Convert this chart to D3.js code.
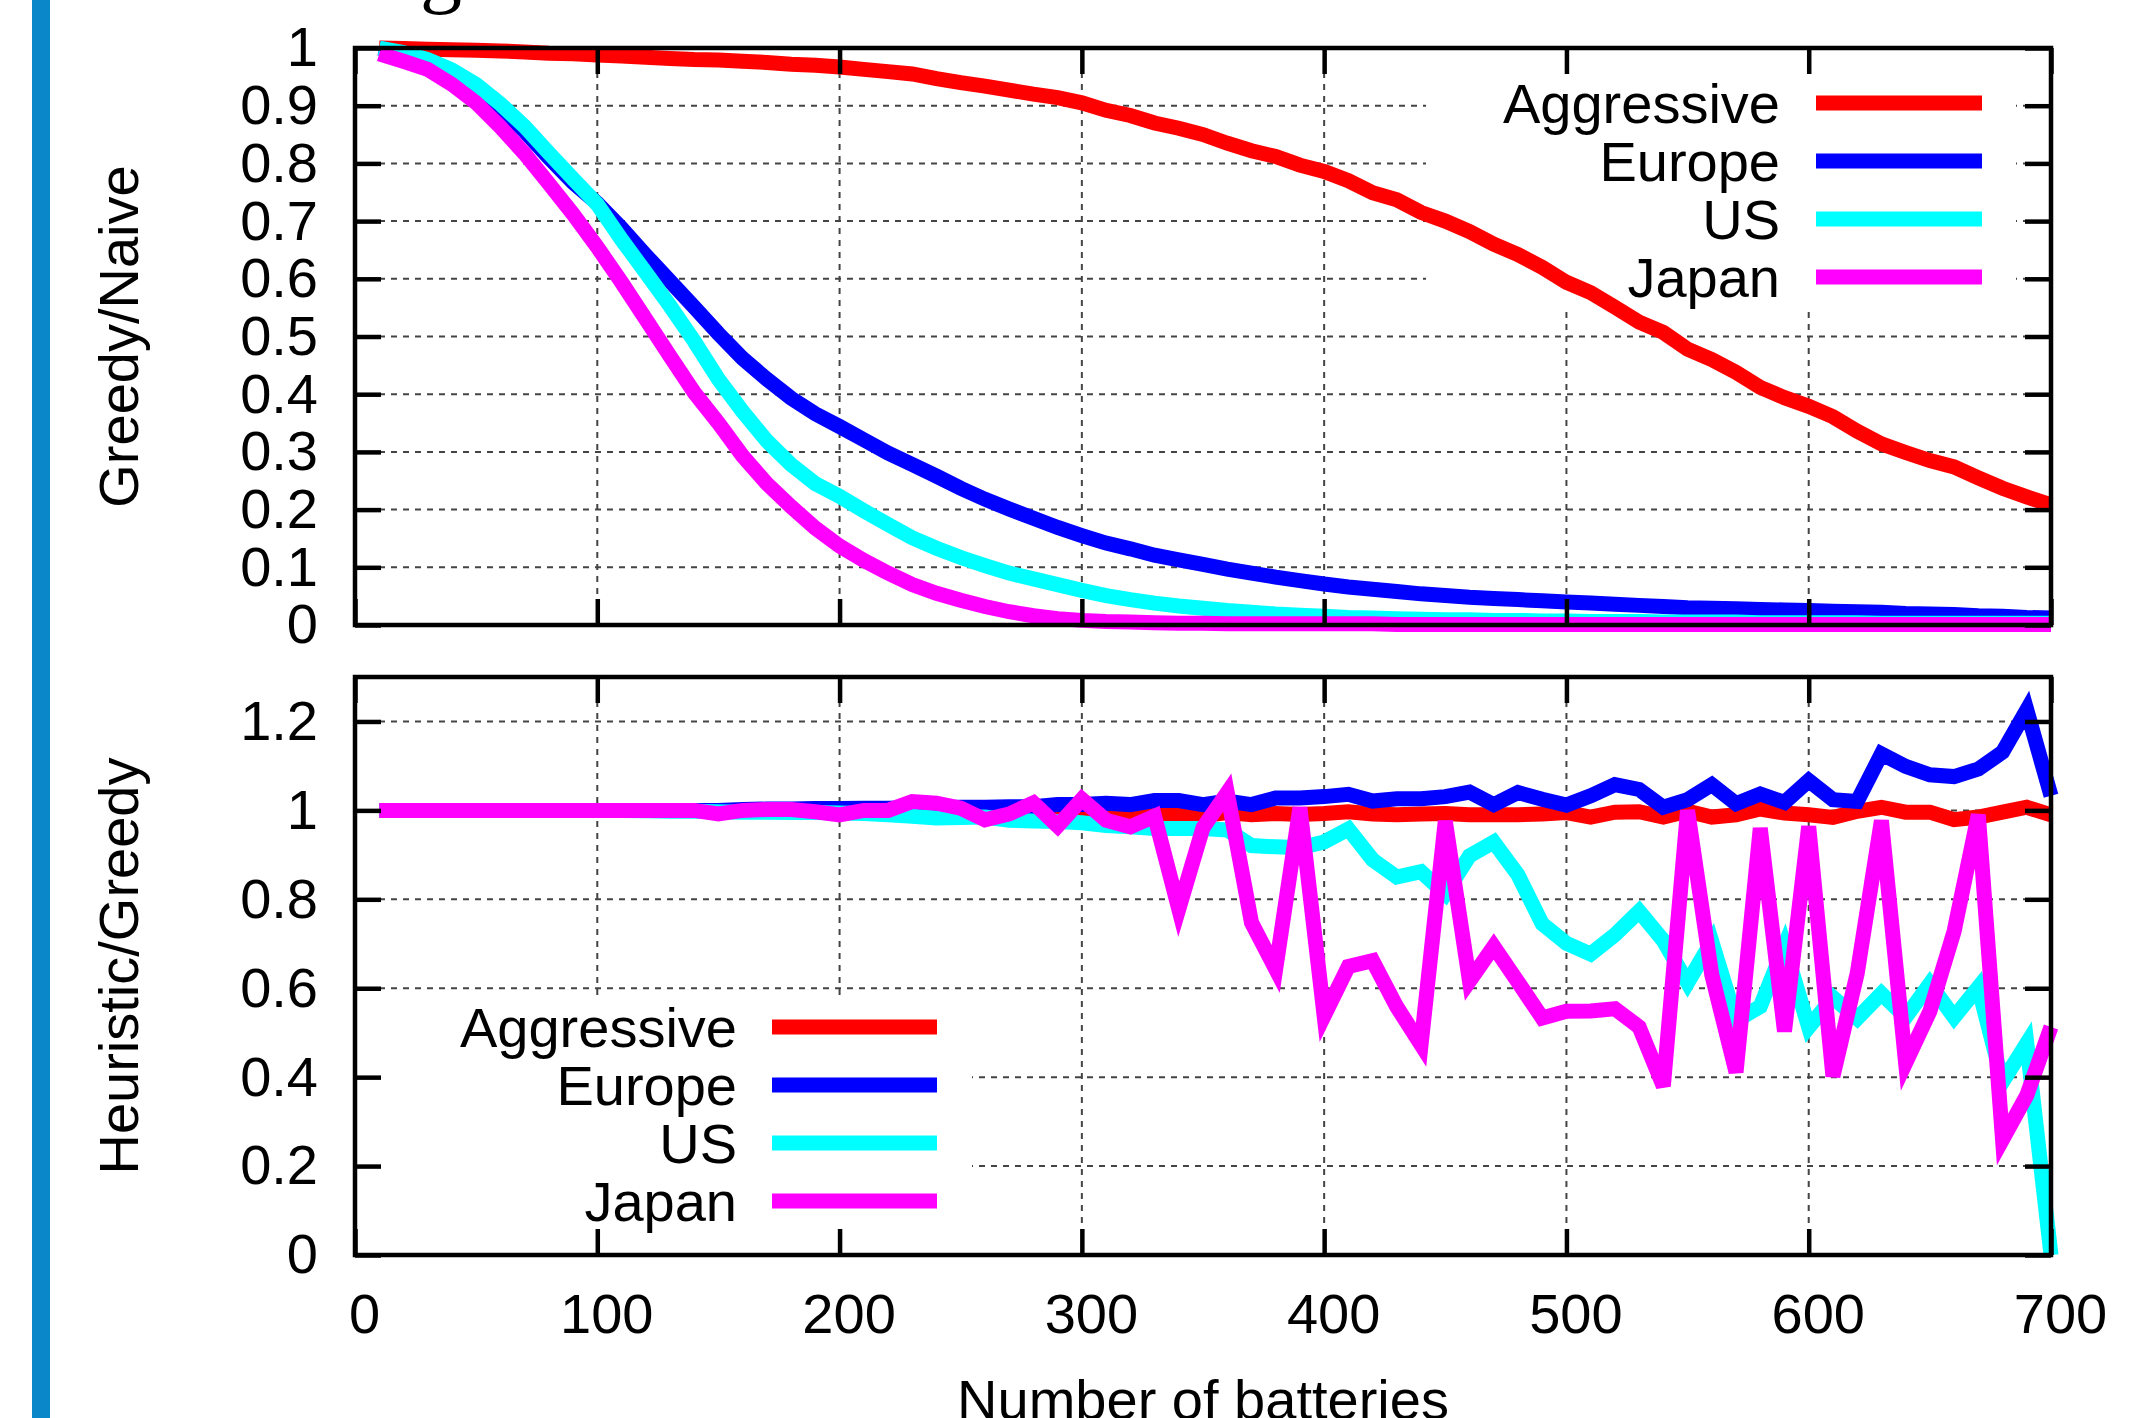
<!DOCTYPE html>
<html lang="en">
<head>
<meta charset="UTF-8" />
<title>Greedy / Heuristic ratios</title>
<style>
	body { margin: 0; background: #fff; }
	svg text { font-family: "Liberation Sans", Arial, Helvetica, sans-serif; }
</style>
</head>
<body>
<svg id="vis" width="2139" height="1418"></svg>
<script src="https://cdn.jsdelivr.net/npm/d3@7"></script>
<script>
	// x values: number of batteries
	const batteries = [10, 20, 30, 40, 50, 60, 70, 80, 90, 100,
		110, 120, 130, 140, 150, 160, 170, 180, 190, 200,
		210, 220, 230, 240, 250, 260, 270, 280, 290, 300,
		310, 320, 330, 340, 350, 360, 370, 380, 390, 400,
		410, 420, 430, 440, 450, 460, 470, 480, 490, 500,
		510, 520, 530, 540, 550, 560, 570, 580, 590, 600,
		610, 620, 630, 640, 650, 660, 670, 680, 690, 700];

	const seriesNames = ["Aggressive", "Europe", "US", "Japan"];
	const seriesColors = ["#ff0000", "#0000ff", "#00ffff", "#ff00ff"];

	// top panel : Greedy/Naive
	const naiveAggressive = [1.0, 0.999, 0.998, 0.997, 0.996, 0.995, 0.993, 0.991, 0.99, 0.988,
		0.986, 0.984, 0.982, 0.98, 0.979, 0.977, 0.975, 0.972, 0.97, 0.967,
		0.963, 0.959, 0.955, 0.947, 0.94, 0.934, 0.927, 0.92, 0.914, 0.905,
		0.892, 0.883, 0.87, 0.861, 0.85, 0.835, 0.822, 0.812, 0.797, 0.786,
		0.77, 0.749, 0.737, 0.715, 0.70, 0.682, 0.66, 0.642, 0.62, 0.594,
		0.576, 0.551, 0.525, 0.507, 0.478, 0.46, 0.438, 0.412, 0.394, 0.379,
		0.361, 0.336, 0.314, 0.299, 0.285, 0.274, 0.255, 0.237, 0.222, 0.208];
	const naiveEurope = [1.0, 0.99, 0.976, 0.955, 0.929, 0.895, 0.856, 0.81, 0.767, 0.731,
		0.688, 0.641, 0.596, 0.551, 0.505, 0.462, 0.426, 0.393, 0.366, 0.344,
		0.321, 0.298, 0.278, 0.258, 0.237, 0.218, 0.201, 0.185, 0.169, 0.155,
		0.142, 0.132, 0.121, 0.113, 0.105, 0.097, 0.09, 0.083, 0.077, 0.071,
		0.066, 0.062, 0.058, 0.054, 0.051, 0.048, 0.046, 0.044, 0.042, 0.04,
		0.038, 0.036, 0.034, 0.032, 0.03, 0.029, 0.028, 0.027, 0.026, 0.025,
		0.024, 0.023, 0.022, 0.02, 0.019, 0.018, 0.016, 0.015, 0.013, 0.012];
	const naiveUS = [1.0, 0.992, 0.98, 0.962, 0.937, 0.903, 0.864, 0.818, 0.773, 0.729,
		0.668, 0.611, 0.553, 0.492, 0.426, 0.37, 0.319, 0.278, 0.245, 0.223,
		0.198, 0.174, 0.151, 0.133, 0.117, 0.103, 0.09, 0.08, 0.07, 0.06,
		0.051, 0.044, 0.038, 0.033, 0.029, 0.025, 0.022, 0.019, 0.017, 0.015,
		0.013, 0.012, 0.011, 0.01, 0.009, 0.009, 0.008, 0.008, 0.007, 0.007,
		0.006, 0.006, 0.006, 0.005, 0.005, 0.005, 0.005, 0.004, 0.004, 0.004,
		0.004, 0.004, 0.003, 0.003, 0.003, 0.003, 0.003, 0.003, 0.003, 0.003];
	const naiveJapan = [0.99, 0.977, 0.963, 0.937, 0.905, 0.863, 0.817, 0.765, 0.712, 0.655,
		0.594, 0.53, 0.466, 0.403, 0.35, 0.293, 0.245, 0.205, 0.168, 0.137,
		0.112, 0.09, 0.07, 0.055, 0.043, 0.032, 0.023, 0.016, 0.011, 0.008,
		0.006, 0.005, 0.004, 0.003, 0.003, 0.002, 0.002, 0.002, 0.002, 0.002,
		0.002, 0.002, 0.001, 0.001, 0.001, 0.001, 0.001, 0.001, 0.001, 0.001,
		0.001, 0.001, 0.001, 0.001, 0.001, 0.001, 0.001, 0.001, 0.001, 0.001,
		0.001, 0.001, 0.001, 0.001, 0.001, 0.001, 0.001, 0.001, 0.001, 0.001];

	// bottom panel : Heuristic/Greedy
	const heurAggressive = [1, 1, 1, 1, 1, 1, 1, 1, 1, 1,
		1, 1, 1, 1, 1, 1, 1, 1, 1, 1,
		1, 1, 1, 1, 1, 1, 1, 1, 1, 0.998,
		0.995, 0.993, 0.991, 0.991, 0.988, 0.995, 0.99, 0.993, 0.991, 0.993,
		0.997, 0.992, 0.99, 0.992, 0.993, 0.99, 0.99, 0.99, 0.992, 0.995,
		0.985, 0.996, 0.997, 0.985, 0.998, 0.985, 0.99, 1.003, 0.994, 0.99,
		0.984, 0.998, 1.007, 0.996, 0.996, 0.979, 0.985, 0.996, 1.007, 0.99];
	const heurEurope = [1, 1, 1, 1, 1, 1, 1, 1, 1, 1,
		1, 1, 1, 1, 1, 1.002, 1.003, 1.003, 1.004, 1.004,
		1.005, 1.005, 1.006, 1.006, 1.007, 1.007, 1.008, 1.008, 1.013, 1.013,
		1.016, 1.013, 1.022, 1.022, 1.013, 1.021, 1.013, 1.028, 1.028, 1.031,
		1.036, 1.021, 1.026, 1.026, 1.031, 1.041, 1.013, 1.04, 1.025, 1.012,
		1.033, 1.058, 1.047, 1.007, 1.024, 1.058, 1.015, 1.037, 1.018, 1.067,
		1.024, 1.02, 1.127, 1.099, 1.08, 1.076, 1.093, 1.131, 1.226, 1.033];
	const heurUS = [1, 1, 1, 1, 1, 1, 1, 1, 1, 1,
		1, 0.999, 0.998, 0.998, 0.997, 0.996, 0.996, 0.995, 0.995, 0.994,
		0.993, 0.99, 0.987, 0.983, 0.984, 0.985, 0.978, 0.976, 0.975, 0.972,
		0.966, 0.963, 0.959, 0.959, 0.959, 0.956, 0.921, 0.918, 0.916, 0.929,
		0.958, 0.889, 0.85, 0.862, 0.812, 0.898, 0.929, 0.855, 0.745, 0.701,
		0.677, 0.72, 0.773, 0.707, 0.612, 0.705, 0.527, 0.559, 0.695, 0.512,
		0.579, 0.532, 0.588, 0.535, 0.61, 0.535, 0.602, 0.389, 0.476, 0.0];
	const heurJapan = [1, 1, 1, 1, 1, 1, 1, 1, 1, 1,
		1, 1, 1, 1, 0.992, 1, 1.002, 1.002, 0.997, 0.99,
		1, 1, 1.02, 1.016, 1.005, 0.979, 0.992, 1.017, 0.965, 1.025,
		0.978, 0.963, 0.987, 0.778, 0.961, 1.04, 0.748, 0.643, 1.006, 0.538,
		0.649, 0.662, 0.558, 0.473, 0.976, 0.616, 0.694, 0.614, 0.533, 0.548,
		0.549, 0.554, 0.513, 0.38, 1.0, 0.63, 0.411, 0.96, 0.503, 0.964,
		0.402, 0.633, 0.977, 0.432, 0.548, 0.728, 0.99, 0.26, 0.359, 0.513];

	// ticks
	const xTicks = [0, 100, 200, 300, 400, 500, 600, 700];
	const topYTicks = [0, 0.1, 0.2, 0.3, 0.4, 0.5, 0.6, 0.7, 0.8, 0.9, 1];
	const botYTicks = [0, 0.2, 0.4, 0.6, 0.8, 1, 1.2];

	let svg = d3.select("#vis");
	const FONT = 56;
	const TICK = 26;
	const LW = 15;

	// left blue bar from the page
	svg.append("rect").attr("x", 32).attr("y", 0).attr("width", 18).attr("height", 1418)
		.attr("fill", "#0a87c9");
	// bit of the caption above
	svg.append("text").attr("x", 420).attr("y", -3).text("g")
		.attr("font-size", 84).style("font-family", "'Liberation Serif', 'DejaVu Serif', serif");

	let scaleX = d3.scaleLinear().domain([0, 700]).range([355, 2051]);

	function drawPanel(scaleY, yTicks, series, legend, yTitle, showXLabels) {
		let g = svg.append("g");
		let [y0, y1] = scaleY.range();
		let [x0, x1] = scaleX.range();

		// grid
		let grid = g.append("g").attr("stroke", "#444").attr("stroke-width", 2)
			.attr("stroke-dasharray", "6,6");
		grid.selectAll("line.gx").data(xTicks.slice(1, -1)).enter().append("line")
			.attr("x1", d => scaleX(d)).attr("x2", d => scaleX(d))
			.attr("y1", y1).attr("y2", y0);
		grid.selectAll("line.gy").data(yTicks.slice(1)).enter().append("line")
			.attr("x1", x0).attr("x2", x1)
			.attr("y1", d => scaleY(d)).attr("y2", d => scaleY(d));

		// key background hides the grid
		g.append("rect").attr("x", legend.box[0]).attr("y", legend.box[1])
			.attr("width", legend.box[2]).attr("height", legend.box[3]).attr("fill", "#fff");

		// curves
		let line = d3.line().x((d, i) => scaleX(batteries[i])).y(d => scaleY(d));
		series.forEach(function (s, k) {
			g.append("path").attr("d", line(s)).attr("fill", "none")
				.attr("stroke", seriesColors[k]).attr("stroke-width", LW)
				.attr("stroke-linejoin", "miter").attr("stroke-miterlimit", 4);
		});

		// axes with inward ticks
		let axL = g.append("g").attr("transform", "translate(" + x0 + ",0)")
			.call(d3.axisLeft(scaleY).tickValues(yTicks).tickSize(-TICK).tickSizeOuter(0)
				.tickPadding(37).tickFormat(d => String(d)));
		let axR = g.append("g").attr("transform", "translate(" + x1 + ",0)")
			.call(d3.axisRight(scaleY).tickValues(yTicks).tickSize(-TICK).tickSizeOuter(0).tickFormat(""));
		let axB = g.append("g").attr("transform", "translate(0," + y0 + ")")
			.call(d3.axisBottom(scaleX).tickValues(xTicks).tickSize(-TICK).tickSizeOuter(0)
				.tickPadding(38).tickFormat(showXLabels ? (d => String(d)) : ""));
		let axT = g.append("g").attr("transform", "translate(0," + y1 + ")")
			.call(d3.axisTop(scaleX).tickValues(xTicks).tickSize(-TICK).tickSizeOuter(0).tickFormat(""));
		[axL, axR, axB, axT].forEach(function (a) {
			a.select(".domain").remove();
			a.attr("font-size", FONT).attr("font-family", null);
			a.selectAll("line").attr("stroke", "#000").attr("stroke-width", 4.5);
			a.selectAll("text").attr("fill", "#000");
		});
		// x labels sit a little right of their tick
		axB.selectAll("text").attr("dx", 9);

		// frame
		g.append("rect").attr("x", x0).attr("y", y1).attr("width", x1 - x0).attr("height", y0 - y1)
			.attr("fill", "none").attr("stroke", "#000").attr("stroke-width", 4.5);

		// y title
		let cy = (y0 + y1) / 2;
		g.append("text").attr("x", 138).attr("y", cy).attr("text-anchor", "middle")
			.attr("transform", "rotate(-90,138," + cy + ")").attr("font-size", FONT).text(yTitle);

		// key
		seriesNames.forEach(function (name, k) {
			let ry = legend.top + k * 58;
			g.append("text").attr("x", legend.textRight).attr("y", ry).attr("dy", "0.36em")
				.attr("text-anchor", "end").attr("font-size", FONT).text(name);
			g.append("line").attr("x1", legend.sample[0]).attr("x2", legend.sample[1])
				.attr("y1", ry).attr("y2", ry)
				.attr("stroke", seriesColors[k]).attr("stroke-width", LW);
		});
	}

	let yTop = d3.scaleLinear().domain([0, 1]).range([625, 48]);
	drawPanel(yTop, topYTicks, [naiveAggressive, naiveEurope, naiveUS, naiveJapan],
		{ box: [1426, 52, 590, 259], top: 103, textRight: 1780, sample: [1816, 1982] },
		"Greedy/Naive", false);

	let yBot = d3.scaleLinear().domain([0, 1.3]).range([1255, 677]);
	drawPanel(yBot, botYTicks, [heurAggressive, heurEurope, heurUS, heurJapan],
		{ box: [358, 997, 614, 255], top: 1027, textRight: 737, sample: [772, 937] },
		"Heuristic/Greedy", true);

	// x title
	svg.append("text").attr("x", 1203).attr("y", 1419).attr("text-anchor", "middle")
		.attr("font-size", FONT).text("Number of batteries");
</script>
</body>
</html>
